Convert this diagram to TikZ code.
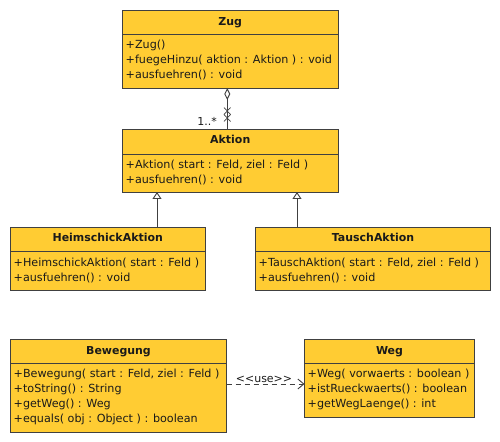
\documentclass[tikz,border=0pt]{standalone}
\usepackage{fontspec}
\setmainfont{DejaVu Sans}
\usetikzlibrary{arrows.meta}
\definecolor{umlfill}{HTML}{FFCC33}
\definecolor{umlline}{HTML}{404040}
\definecolor{umltext}{HTML}{1A1A1A}
\begin{document}
\begin{tikzpicture}[x=1bp,y=-1bp,
  classbox/.style={draw=umlline, fill=umlfill, line width=0.9bp, inner sep=0pt, outer sep=0pt},
  sepline/.style={draw=umlline, line width=0.9bp},
  ctitle/.style={font=\fontsize{11}{13}\selectfont\bfseries, text=umltext, inner sep=0pt, anchor=base},
  member/.style={font=\fontsize{11.2}{13}\selectfont, text=umltext, inner sep=0pt, anchor=base west},
  conn/.style={draw=umlline, line width=0.9bp},
  gen/.style={conn, -{Triangle[open, length=7bp, width=9bp]}},
  usedep/.style={conn, dash pattern=on 5bp off 4bp, -{Straight Barb[length=6bp, width=10bp]}},
  aggr/.style={conn, {Diamond[open, length=12bp, width=6bp]}-}]
\useasboundingbox (0,0) rectangle (500,442);

% Zug
\node[classbox, minimum width=215.5bp, minimum height=77.5bp] (zug) at (230.25,49.25) {};
\draw[sepline] (122.5,34) -- (338,34);
\node[ctitle] (zugT) at (230.25,26) {Zug};
\node[member] (zug1) at (125.5,48.5) {+Zug()};
\node[member] (zug2) at (125.5,63.5) {+fuegeHinzu( aktion : Aktion ) : void};
\node[member] (zug3) at (125.5,78.5) {+ausfuehren() : void};

% Aktion
\node[classbox, minimum width=215.5bp, minimum height=62.5bp] (akt) at (230.25,160.75) {};
\draw[sepline] (122.5,154) -- (338,154);
\node[ctitle] (aktT) at (230.25,144) {Aktion};
\node[member] (akt1) at (125.5,168.5) {+Aktion( start : Feld, ziel : Feld )};
\node[member] (akt2) at (125.5,183.5) {+ausfuehren() : void};

% HeimschickAktion
\node[classbox, minimum width=194.5bp, minimum height=63bp] (heim) at (107.75,258.5) {};
\draw[sepline] (10.5,251) -- (205,251);
\node[ctitle] (heimT) at (107.75,242) {HeimschickAktion};
\node[member] (heim1) at (13.5,266) {+HeimschickAktion( start : Feld )};
\node[member] (heim2) at (13.5,281) {+ausfuehren() : void};

% TauschAktion
\node[classbox, minimum width=235bp, minimum height=63bp] (tausch) at (373,258.5) {};
\draw[sepline] (255.5,251) -- (490.5,251);
\node[ctitle] (tauschT) at (373,242) {TauschAktion};
\node[member] (tausch1) at (258.5,266) {+TauschAktion( start : Feld, ziel : Feld )};
\node[member] (tausch2) at (258.5,281) {+ausfuehren() : void};

% Bewegung
\node[classbox, minimum width=216bp, minimum height=93bp] (bew) at (118.5,385.5) {};
\draw[sepline] (10.5,363) -- (226.5,363);
\node[ctitle] (bewT) at (118.5,354) {Bewegung};
\node[member] (bew1) at (13.5,377.5) {+Bewegung( start : Feld, ziel : Feld )};
\node[member] (bew2) at (13.5,392.5) {+toString() : String};
\node[member] (bew3) at (13.5,407.5) {+getWeg() : Weg};
\node[member] (bew4) at (13.5,422.5) {+equals( obj : Object ) : boolean};

% Weg
\node[classbox, minimum width=170bp, minimum height=78bp] (weg) at (389.5,378) {};
\draw[sepline] (304.5,363) -- (474.5,363);
\node[ctitle] (wegT) at (389.5,354) {Weg};
\node[member] (weg1) at (307.5,377.5) {+Weg( vorwaerts : boolean )};
\node[member] (weg2) at (307.5,392.5) {+istRueckwaerts() : boolean};
\node[member] (weg3) at (307.5,407.5) {+getWegLaenge() : int};

% Aggregation Zug <>-- Aktion
\draw[aggr] ([xshift=-3bp]zug.south) -- ([xshift=-3bp]akt.north);
\draw[conn, line width=0.7bp] (224,107.5) -- (230.5,114.5) (230.5,107.5) -- (224,114.5)
  (224,114.5) -- (230.5,121.5) (230.5,114.5) -- (224,121.5);
\node[member, anchor=base east, font=\fontsize{11}{13}\selectfont] (mult) at (217,125.5) {1..*};

% Generalizations
\draw[gen] ([xshift=49.25bp]heim.north) -- ([xshift=49.25bp]heim.north |- akt.south);
\draw[gen] ([xshift=-76bp]tausch.north) -- ([xshift=-76bp]tausch.north |- akt.south);

% use dependency
\draw[usedep] ([yshift=1.5bp]bew.east) -- ([yshift=1.5bp]bew.east -| weg.west);
\node[member, anchor=base, font=\fontsize{11}{13}\selectfont] (uselbl) at (264,382) {\symbol{60}\symbol{60}use\symbol{62}\symbol{62}};
\end{tikzpicture}
\end{document}
